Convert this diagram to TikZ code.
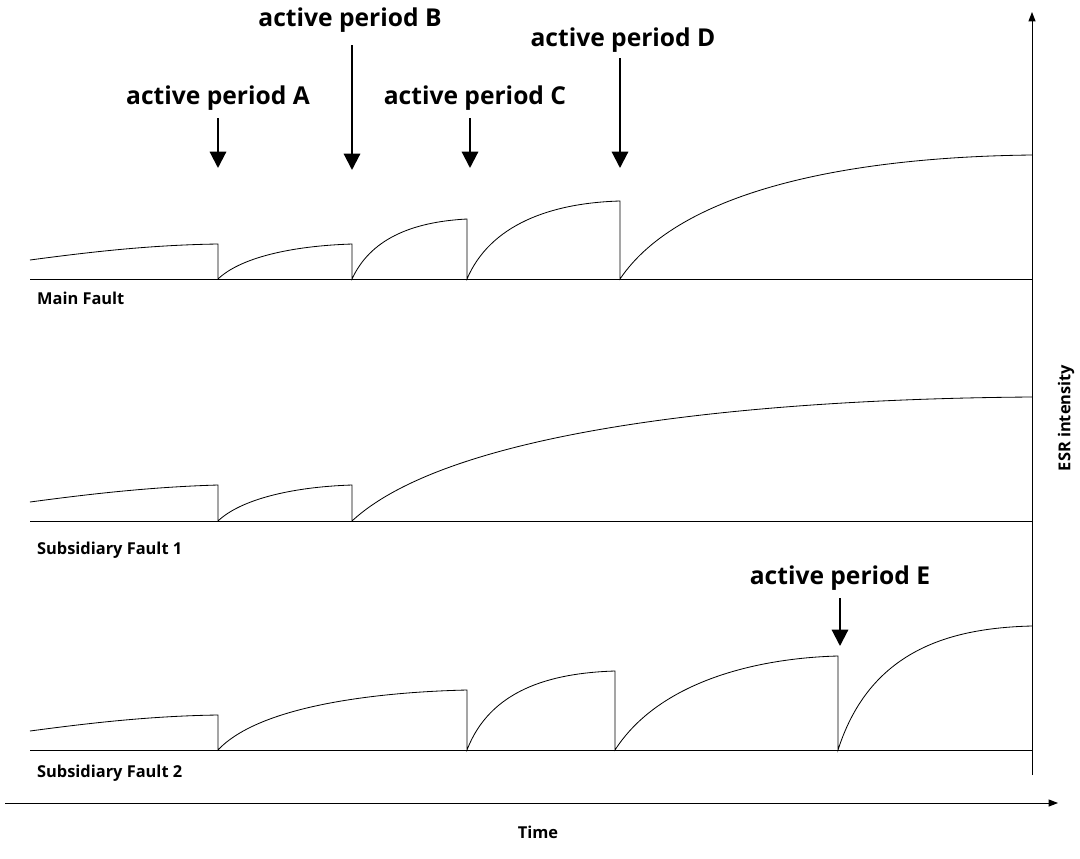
\documentclass[tikz,border=0pt]{standalone}
\usepackage{fontspec}
\setmainfont{Open Sans}
\usetikzlibrary{arrows.meta}
\begin{document}
\begin{tikzpicture}[x=0.03cm,y=-0.03cm,
  curve/.style={line width=0.7pt},
  axis/.style={line width=0.8pt,-{Triangle[width=6pt,length=8pt]}},
  act/.style={line width=1.8pt,-{Triangle[width=14pt,length=14pt]}},
  big/.style={font=\bfseries\fontsize{21}{24}\selectfont},
  small/.style={font=\bfseries\fontsize{14}{16}\selectfont,anchor=west}]
\useasboundingbox (0,0) rectangle (1080,859);
% axes
\coordinate (yb) at (1032,775); \coordinate (yt) at (1032,12);
\draw[axis] (yb) -- (yt);
\coordinate (xl) at (5,803); \coordinate (xr) at (1058,803);
\draw[axis] (xl) -- (xr);
\node[rotate=90,font=\bfseries\fontsize{14}{16}\selectfont] (esr) at (1066,418) {ESR intensity};
\node[font=\bfseries\fontsize{14}{16}\selectfont] (time) at (538,832) {Time};
% baselines
\foreach \b in {279,521,750} \draw[curve] (30,\b) -- (1032,\b);
% main fault
\draw[curve] (30,260) .. controls (90,252) and (150,245) .. (218,244) -- (218,279)
  .. controls (240,258) and (290,246) .. (352,244) -- (352,279)
  .. controls (370,240) and (410,222) .. (467,219) -- (467,279)
  .. controls (490,225) and (550,203) .. (620,201) -- (620,279)
  .. controls (680,190) and (850,157) .. (1032,155);
% sub 1
\draw[curve] (30,502) .. controls (90,494) and (150,487) .. (218,485) -- (218,521)
  .. controls (240,500) and (290,487) .. (352,485) -- (352,521)
  .. controls (450,430) and (750,399) .. (1032,397);
% sub 2
\draw[curve] (30,731) .. controls (90,723) and (150,716) .. (218,715) -- (218,750)
  .. controls (260,705) and (380,692) .. (467,690) -- (467,750)
  .. controls (490,690) and (550,673) .. (615,671) -- (615,750)
  .. controls (660,680) and (760,658) .. (838,656) -- (838,750)
  .. controls (870,650) and (950,628) .. (1032,626);
% active periods
\node[big] (A) at (218,98) {active period A};
\node[big] (B) at (350,20) {active period B};
\node[big] (C) at (475,98) {active period C};
\node[big] (D) at (623,40) {active period D};
\node[big] (E) at (840,578) {active period E};
\coordinate (Ae) at (218,168); \coordinate (Be) at (352,170);
\coordinate (Ce) at (470,168); \coordinate (De) at (620,168);
\coordinate (Ee) at (840,646);
\draw[act] (218,118) -- (Ae);
\draw[act] (352,45) -- (Be);
\draw[act] (470,118) -- (Ce);
\draw[act] (620,58) -- (De);
\draw[act] (840,598) -- (Ee);
% labels
\node[small] (mf) at (33,298) {Main Fault};
\node[small] (s1) at (33,550) {Subsidiary Fault 1};
\node[small] (s2) at (33,773) {Subsidiary Fault 2};
\end{tikzpicture}
\end{document}
